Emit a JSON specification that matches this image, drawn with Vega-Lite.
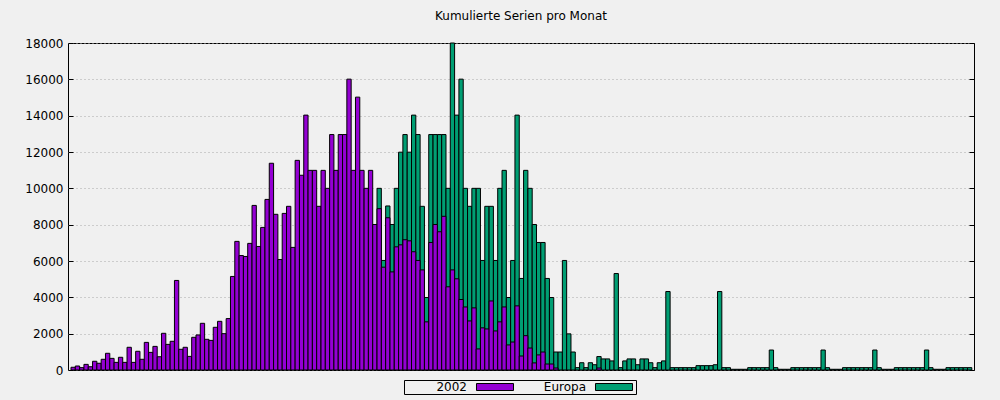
{
  "$schema": "https://vega.github.io/schema/vega-lite/v6.json",
  "width": 906,
  "height": 327,
  "autosize": {"type": "none"},
  "padding": {"left": 68, "top": 43, "right": 26, "bottom": 30},
  "background": "#f0f0f0",
  "config": {
    "font": "DejaVu Sans",
    "view": {"stroke": "black", "strokeWidth": 1, "fill": "#f0f0f0"}
  },
  "title": {"text": "Kumulierte Serien pro Monat", "fontSize": 12, "fontWeight": "normal", "font": "DejaVu Sans", "color": "black", "offset": 14},
  "data": {"values": [
    {"monat":72,"reihe":"Europa","serien":10000},{"monat":73,"reihe":"Europa","serien":6030},{"monat":74,"reihe":"Europa","serien":9030},{"monat":75,"reihe":"Europa","serien":8010},{"monat":76,"reihe":"Europa","serien":10000},{"monat":77,"reihe":"Europa","serien":11990},{"monat":78,"reihe":"Europa","serien":12960},{"monat":79,"reihe":"Europa","serien":11990},{"monat":80,"reihe":"Europa","serien":14030},{"monat":81,"reihe":"Europa","serien":12960},{"monat":82,"reihe":"Europa","serien":9010},{"monat":83,"reihe":"Europa","serien":3990},{"monat":84,"reihe":"Europa","serien":12960},{"monat":85,"reihe":"Europa","serien":12960},{"monat":86,"reihe":"Europa","serien":12960},{"monat":87,"reihe":"Europa","serien":12960},{"monat":88,"reihe":"Europa","serien":10000},{"monat":89,"reihe":"Europa","serien":18000},{"monat":90,"reihe":"Europa","serien":14030},{"monat":91,"reihe":"Europa","serien":16010},{"monat":92,"reihe":"Europa","serien":10000},{"monat":93,"reihe":"Europa","serien":9010},{"monat":94,"reihe":"Europa","serien":10000},{"monat":95,"reihe":"Europa","serien":10000},{"monat":96,"reihe":"Europa","serien":6030},{"monat":97,"reihe":"Europa","serien":9010},{"monat":98,"reihe":"Europa","serien":9010},{"monat":99,"reihe":"Europa","serien":6030},{"monat":100,"reihe":"Europa","serien":10000},{"monat":101,"reihe":"Europa","serien":10990},{"monat":102,"reihe":"Europa","serien":3990},{"monat":103,"reihe":"Europa","serien":6030},{"monat":104,"reihe":"Europa","serien":14030},{"monat":105,"reihe":"Europa","serien":5040},{"monat":106,"reihe":"Europa","serien":10990},{"monat":107,"reihe":"Europa","serien":10000},{"monat":108,"reihe":"Europa","serien":8010},{"monat":109,"reihe":"Europa","serien":7020},{"monat":110,"reihe":"Europa","serien":7020},{"monat":111,"reihe":"Europa","serien":5040},{"monat":112,"reihe":"Europa","serien":3990},{"monat":113,"reihe":"Europa","serien":990},{"monat":114,"reihe":"Europa","serien":990},{"monat":115,"reihe":"Europa","serien":6030},{"monat":116,"reihe":"Europa","serien":1990},{"monat":117,"reihe":"Europa","serien":990},{"monat":118,"reihe":"Europa","serien":130},{"monat":119,"reihe":"Europa","serien":400},{"monat":120,"reihe":"Europa","serien":130},{"monat":121,"reihe":"Europa","serien":400},{"monat":122,"reihe":"Europa","serien":290},{"monat":123,"reihe":"Europa","serien":740},{"monat":124,"reihe":"Europa","serien":610},{"monat":125,"reihe":"Europa","serien":610},{"monat":126,"reihe":"Europa","serien":500},{"monat":127,"reihe":"Europa","serien":5310},{"monat":128,"reihe":"Europa","serien":130},{"monat":129,"reihe":"Europa","serien":500},{"monat":130,"reihe":"Europa","serien":610},{"monat":131,"reihe":"Europa","serien":610},{"monat":132,"reihe":"Europa","serien":290},{"monat":133,"reihe":"Europa","serien":610},{"monat":134,"reihe":"Europa","serien":610},{"monat":135,"reihe":"Europa","serien":400},{"monat":136,"reihe":"Europa","serien":130},{"monat":137,"reihe":"Europa","serien":400},{"monat":138,"reihe":"Europa","serien":500},{"monat":139,"reihe":"Europa","serien":4320},{"monat":140,"reihe":"Europa","serien":130},{"monat":141,"reihe":"Europa","serien":130},{"monat":142,"reihe":"Europa","serien":130},{"monat":143,"reihe":"Europa","serien":130},{"monat":144,"reihe":"Europa","serien":130},{"monat":145,"reihe":"Europa","serien":130},{"monat":146,"reihe":"Europa","serien":240},{"monat":147,"reihe":"Europa","serien":240},{"monat":148,"reihe":"Europa","serien":240},{"monat":149,"reihe":"Europa","serien":240},{"monat":150,"reihe":"Europa","serien":290},{"monat":151,"reihe":"Europa","serien":4320},{"monat":152,"reihe":"Europa","serien":130},{"monat":153,"reihe":"Europa","serien":130},{"monat":154,"reihe":"Europa","serien":40},{"monat":155,"reihe":"Europa","serien":40},{"monat":156,"reihe":"Europa","serien":40},{"monat":157,"reihe":"Europa","serien":40},{"monat":158,"reihe":"Europa","serien":130},{"monat":159,"reihe":"Europa","serien":130},{"monat":160,"reihe":"Europa","serien":130},{"monat":161,"reihe":"Europa","serien":130},{"monat":162,"reihe":"Europa","serien":130},{"monat":163,"reihe":"Europa","serien":1100},{"monat":164,"reihe":"Europa","serien":130},{"monat":165,"reihe":"Europa","serien":40},{"monat":166,"reihe":"Europa","serien":40},{"monat":167,"reihe":"Europa","serien":40},{"monat":168,"reihe":"Europa","serien":130},{"monat":169,"reihe":"Europa","serien":130},{"monat":170,"reihe":"Europa","serien":130},{"monat":171,"reihe":"Europa","serien":130},{"monat":172,"reihe":"Europa","serien":130},{"monat":173,"reihe":"Europa","serien":130},{"monat":174,"reihe":"Europa","serien":130},{"monat":175,"reihe":"Europa","serien":1100},{"monat":176,"reihe":"Europa","serien":130},{"monat":177,"reihe":"Europa","serien":40},{"monat":178,"reihe":"Europa","serien":40},{"monat":179,"reihe":"Europa","serien":40},{"monat":180,"reihe":"Europa","serien":130},{"monat":181,"reihe":"Europa","serien":130},{"monat":182,"reihe":"Europa","serien":130},{"monat":183,"reihe":"Europa","serien":130},{"monat":184,"reihe":"Europa","serien":130},{"monat":185,"reihe":"Europa","serien":130},{"monat":186,"reihe":"Europa","serien":130},{"monat":187,"reihe":"Europa","serien":1100},{"monat":188,"reihe":"Europa","serien":130},{"monat":189,"reihe":"Europa","serien":40},{"monat":190,"reihe":"Europa","serien":40},{"monat":191,"reihe":"Europa","serien":40},{"monat":192,"reihe":"Europa","serien":130},{"monat":193,"reihe":"Europa","serien":130},{"monat":194,"reihe":"Europa","serien":130},{"monat":195,"reihe":"Europa","serien":130},{"monat":196,"reihe":"Europa","serien":130},{"monat":197,"reihe":"Europa","serien":130},{"monat":198,"reihe":"Europa","serien":130},{"monat":199,"reihe":"Europa","serien":1100},{"monat":200,"reihe":"Europa","serien":130},{"monat":201,"reihe":"Europa","serien":40},{"monat":202,"reihe":"Europa","serien":40},{"monat":203,"reihe":"Europa","serien":40},{"monat":204,"reihe":"Europa","serien":130},{"monat":205,"reihe":"Europa","serien":130},{"monat":206,"reihe":"Europa","serien":130},{"monat":207,"reihe":"Europa","serien":130},{"monat":208,"reihe":"Europa","serien":130},{"monat":209,"reihe":"Europa","serien":130},
    {"monat":1,"reihe":"2002","serien":150},{"monat":2,"reihe":"2002","serien":220},{"monat":3,"reihe":"2002","serien":130},{"monat":4,"reihe":"2002","serien":310},{"monat":5,"reihe":"2002","serien":180},{"monat":6,"reihe":"2002","serien":480},{"monat":7,"reihe":"2002","serien":370},{"monat":8,"reihe":"2002","serien":590},{"monat":9,"reihe":"2002","serien":920},{"monat":10,"reihe":"2002","serien":640},{"monat":11,"reihe":"2002","serien":420},{"monat":12,"reihe":"2002","serien":700},{"monat":13,"reihe":"2002","serien":420},{"monat":14,"reihe":"2002","serien":1250},{"monat":15,"reihe":"2002","serien":420},{"monat":16,"reihe":"2002","serien":1030},{"monat":17,"reihe":"2002","serien":590},{"monat":18,"reihe":"2002","serien":1520},{"monat":19,"reihe":"2002","serien":970},{"monat":20,"reihe":"2002","serien":1300},{"monat":21,"reihe":"2002","serien":730},{"monat":22,"reihe":"2002","serien":2020},{"monat":23,"reihe":"2002","serien":1410},{"monat":24,"reihe":"2002","serien":1580},{"monat":25,"reihe":"2002","serien":4930},{"monat":26,"reihe":"2002","serien":1140},{"monat":27,"reihe":"2002","serien":1250},{"monat":28,"reihe":"2002","serien":750},{"monat":29,"reihe":"2002","serien":1800},{"monat":30,"reihe":"2002","serien":1930},{"monat":31,"reihe":"2002","serien":2570},{"monat":32,"reihe":"2002","serien":1690},{"monat":33,"reihe":"2002","serien":1630},{"monat":34,"reihe":"2002","serien":2350},{"monat":35,"reihe":"2002","serien":2680},{"monat":36,"reihe":"2002","serien":2000},{"monat":37,"reihe":"2002","serien":2830},{"monat":38,"reihe":"2002","serien":5150},{"monat":39,"reihe":"2002","serien":7080},{"monat":40,"reihe":"2002","serien":6300},{"monat":41,"reihe":"2002","serien":6250},{"monat":42,"reihe":"2002","serien":6970},{"monat":43,"reihe":"2002","serien":9060},{"monat":44,"reihe":"2002","serien":6800},{"monat":45,"reihe":"2002","serien":7850},{"monat":46,"reihe":"2002","serien":9390},{"monat":47,"reihe":"2002","serien":11380},{"monat":48,"reihe":"2002","serien":8570},{"monat":49,"reihe":"2002","serien":6080},{"monat":50,"reihe":"2002","serien":8620},{"monat":51,"reihe":"2002","serien":9010},{"monat":52,"reihe":"2002","serien":6750},{"monat":53,"reihe":"2002","serien":11540},{"monat":54,"reihe":"2002","serien":10720},{"monat":55,"reihe":"2002","serien":14030},{"monat":56,"reihe":"2002","serien":10990},{"monat":57,"reihe":"2002","serien":10990},{"monat":58,"reihe":"2002","serien":9010},{"monat":59,"reihe":"2002","serien":10990},{"monat":60,"reihe":"2002","serien":10000},{"monat":61,"reihe":"2002","serien":12960},{"monat":62,"reihe":"2002","serien":10990},{"monat":63,"reihe":"2002","serien":12960},{"monat":64,"reihe":"2002","serien":12960},{"monat":65,"reihe":"2002","serien":16010},{"monat":66,"reihe":"2002","serien":10990},{"monat":67,"reihe":"2002","serien":15020},{"monat":68,"reihe":"2002","serien":10990},{"monat":69,"reihe":"2002","serien":10000},{"monat":70,"reihe":"2002","serien":10990},{"monat":71,"reihe":"2002","serien":8010},{"monat":72,"reihe":"2002","serien":8880},{"monat":73,"reihe":"2002","serien":5660},{"monat":74,"reihe":"2002","serien":8380},{"monat":75,"reihe":"2002","serien":5400},{"monat":76,"reihe":"2002","serien":6780},{"monat":77,"reihe":"2002","serien":6890},{"monat":78,"reihe":"2002","serien":7170},{"monat":79,"reihe":"2002","serien":7110},{"monat":80,"reihe":"2002","serien":6510},{"monat":81,"reihe":"2002","serien":6030},{"monat":82,"reihe":"2002","serien":5510},{"monat":83,"reihe":"2002","serien":2650},{"monat":84,"reihe":"2002","serien":7020},{"monat":85,"reihe":"2002","serien":8010},{"monat":86,"reihe":"2002","serien":7610},{"monat":87,"reihe":"2002","serien":8460},{"monat":88,"reihe":"2002","serien":4580},{"monat":89,"reihe":"2002","serien":5510},{"monat":90,"reihe":"2002","serien":5020},{"monat":91,"reihe":"2002","serien":3880},{"monat":92,"reihe":"2002","serien":3470},{"monat":93,"reihe":"2002","serien":2700},{"monat":94,"reihe":"2002","serien":3420},{"monat":95,"reihe":"2002","serien":1160},{"monat":96,"reihe":"2002","serien":2320},{"monat":97,"reihe":"2002","serien":2260},{"monat":98,"reihe":"2002","serien":3800},{"monat":99,"reihe":"2002","serien":2150},{"monat":100,"reihe":"2002","serien":2650},{"monat":101,"reihe":"2002","serien":3470},{"monat":102,"reihe":"2002","serien":1380},{"monat":103,"reihe":"2002","serien":1540},{"monat":104,"reihe":"2002","serien":3530},{"monat":105,"reihe":"2002","serien":770},{"monat":106,"reihe":"2002","serien":1890},{"monat":107,"reihe":"2002","serien":1210},{"monat":108,"reihe":"2002","serien":390},{"monat":109,"reihe":"2002","serien":830},{"monat":110,"reihe":"2002","serien":990},{"monat":111,"reihe":"2002","serien":330},{"monat":112,"reihe":"2002","serien":330},{"monat":113,"reihe":"2002","serien":110},{"monat":123,"reihe":"2002","serien":110}
  ]},
  "encoding": {
    "x": {"field": "monat", "type": "ordinal", "axis": null, "scale": {"paddingInner": 0, "paddingOuter": 0.6, "align": 0.58}},
    "color": {
      "field": "reihe", "type": "nominal",
      "scale": {"domain": ["2002", "Europa"], "range": ["#9400d3", "#009e73"]},
      "legend": {
        "orient": "none", "legendX": 336, "legendY": 337,
        "direction": "horizontal",
        "title": " ", "titleOrient": "left", "titlePadding": 13, "titleFontSize": 12,
        "padding": 1, "strokeColor": "black",
        "symbolType": "M-5.286,-1H5.286V1H-5.286Z", "symbolSize": 49,
        "symbolOffset": 71,
        "symbolStrokeColor": "black", "symbolStrokeWidth": 1, "symbolOpacity": 1,
        "labelAlign": "right", "labelOffset": -34,
        "labelFontSize": 12, "labelColor": "black", "labelFont": "DejaVu Sans",
        "columnPadding": 21
      }
    }
  },
  "layer": [
    {
      "transform": [{"filter": "datum.reihe == 'Europa'"}],
      "mark": {"type": "bar", "stroke": "black", "strokeWidth": 1, "opacity": 1},
      "encoding": {
        "y": {"field": "serien", "type": "quantitative", "stack": null,
          "scale": {"domain": [0, 18000], "nice": false},
          "axis": {"orient": "left", "title": null, "values": [0,2000,4000,6000,8000,10000,12000,14000,16000,18000], "format": "d",
            "labelFontSize": 12, "labelColor": "black", "labelFont": "DejaVu Sans", "labelPadding": 10,
            "tickColor": "black", "tickSize": -5, "domain": false,
            "grid": true, "gridColor": "#a8a8a8", "gridDash": [1, 3], "gridWidth": 1}
        }
      }
    },
    {
      "transform": [{"filter": "datum.reihe == '2002'"}],
      "mark": {"type": "bar", "stroke": "black", "strokeWidth": 1, "opacity": 1},
      "encoding": {
        "y": {"field": "serien", "type": "quantitative", "stack": null,
          "scale": {"domain": [0, 18000], "nice": false},
          "axis": {"orient": "right", "title": null, "values": [0,2000,4000,6000,8000,10000,12000,14000,16000,18000],
            "labels": false, "tickColor": "black", "tickSize": -5, "domain": false, "grid": false}
        }
      }
    }
  ],
  "resolve": {"axis": {"y": "independent"}}
}
